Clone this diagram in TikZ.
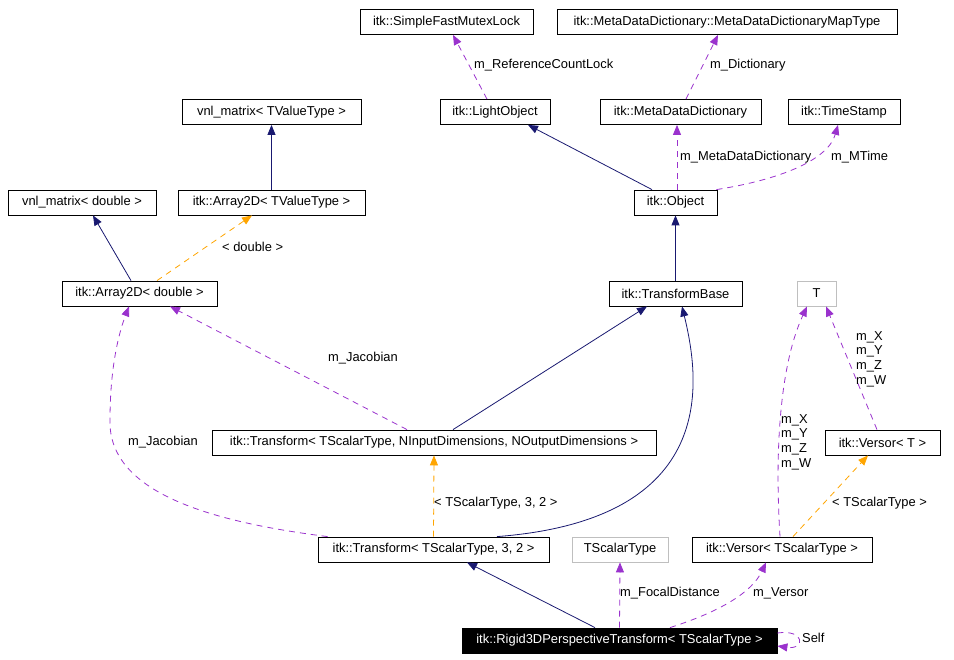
\documentclass[tikz,border=0pt]{standalone}
\usepackage{fontspec}
\setmainfont{Liberation Sans}
\usetikzlibrary{arrows.meta, calc}
\definecolor{inhnavy}{HTML}{191970}
\definecolor{tplorange}{HTML}{FFA500}
\definecolor{memorchid}{HTML}{9A32CD}
\definecolor{extgray}{HTML}{BFBFBF}

\begin{document}
\begin{tikzpicture}[x=1pt, y=-1pt,
  every node/.style={font=\fontsize{12.9}{14.6}\selectfont, inner sep=0pt},
  cls/.style={draw=black, fill=white, line width=0.8pt, minimum height=25pt},
  extcls/.style={cls, draw=extgray},
  thiscls/.style={cls, fill=black, text=white},
  inh/.style={inhnavy, line width=0.8pt, -{Triangle[length=10pt,width=8pt]}},
  tpl/.style={tplorange, line width=0.8pt, dash pattern=on 6pt off 5pt,
              -{Triangle[length=10pt,width=8pt]}},
  mem/.style={memorchid, line width=0.8pt, dash pattern=on 6pt off 5pt,
              -{Triangle[length=10pt,width=8pt]}},
  lbl/.style={anchor=west, align=left}]
  % fixed frame, 1 unit = 1 pixel of the reference, y grows downwards
  \useasboundingbox (0,0) rectangle (954,660);

  % class boxes: name / centre x / centre y / width / text
  \foreach \nm/\cx/\cy/\w/\txt in {
    lock/446.5/22/173/{itk::SimpleFastMutexLock},
    maptype/727/22/340/{itk::MetaDataDictionary::MetaDataDictionaryMapType},
    vnlT/271.5/112/179/{vnl\_matrix< TValueType >},
    light/495/112/110/{itk::LightObject},
    mdd/680.5/112/161/{itk::MetaDataDictionary},
    stamp/844/112/112/{itk::TimeStamp},
    vnld/82/202.5/148/{vnl\_matrix< double >},
    arrT/271.5/202.5/187/{itk::Array2D< TValueType >},
    obj/675.5/202.5/83/{itk::Object},
    arrd/139.5/293.5/155/{itk::Array2D< double >},
    tbase/675.5/293.5/133/{itk::TransformBase},
    trN/434/442.5/444/{itk::Transform< TScalarType, NInputDimensions, NOutputDimensions >},
    versT/882.5/442.5/115/{itk::Versor< T >},
    tr32/433.5/549.5/231/{itk::Transform< TScalarType, 3, 2 >},
    versS/782/549.5/180/{itk::Versor< TScalarType >}
  }{
    \node[cls, minimum width=\w pt] (\nm) at (\cx,\cy) {\txt};
  }
  \node[extcls, minimum width=39pt] (T) at (816.5,293.5) {T};
  \node[extcls, minimum width=96pt] (tst) at (620,549.5) {TScalarType};
  \node[thiscls, minimum width=315pt] (rigid) at (619.5,640.5)
    {itk::Rigid3DPerspectiveTransform< TScalarType >};

  % inheritance
  \draw[inh] ($(arrd.north)+(-8.5,0)$) -- ($(vnld.south)+(11,0)$);
  \draw[inh] (arrT.north) -- (vnlT.south);
  \draw[inh] ($(obj.north)+(-23.5,0)$) -- ($(light.south)+(33,0)$);
  \draw[inh] (tbase.north) -- (obj.south);
  \draw[inh] ($(trN.north)+(19,0)$) -- ($(tbase.south)+(-28.5,0)$);
  \draw[inh] ($(tr32.north)+(63.5,0)$)
    .. controls +(223,-17) and +(18,74) .. ($(tbase.south)+(6.5,0)$);
  \draw[inh] ($(rigid.north)+(-24.5,0)$) -- ($(tr32.south)+(33.5,0)$);

  % template instances
  \draw[tpl] ($(arrd.north)+(17.5,0)$) -- ($(arrT.south)+(-19.5,0)$);
  \draw[tpl] (tr32.north) -- (trN.south);
  \draw[tpl] ($(versS.north)+(11,0)$) -- ($(versT.south)+(-14.5,0)$);

  % members
  \draw[mem] ($(light.north)+(-8,0)$) -- ($(lock.south)+(6.5,0)$);
  \draw[mem] ($(mdd.north)+(5.5,0)$) -- ($(maptype.south)+(-9,0)$);
  \draw[mem] ($(obj.north)+(1.5,0)$) -- ($(mdd.south)+(-3.5,0)$);
  \draw[mem] ($(obj.north east)+(-1,0)$)
    .. controls +(64,-10) and +(-10,35) .. ($(stamp.south)+(-6,0)$);
  \draw[mem] ($(trN.north)+(-27,0)$) -- ($(arrd.south)+(30.5,0)$);
  \draw[mem] ($(tr32.north west)+(10,0)$)
    .. controls (212,522) and (108,493) .. (110,420)
    .. controls (110,370) and (118,335) .. ($(arrd.south)+(-10.5,0)$);
  \draw[mem] ($(versT.north)+(-5.5,0)$) -- ($(T.south)+(9.5,0)$);
  \draw[mem] ($(versS.north)+(-2,0)$)
    .. controls +(-6,-97) and +(-25,54) .. ($(T.south)+(-9.5,0)$);
  \draw[mem] (rigid.north) -- (tst.south);
  \draw[mem] ($(rigid.north)+(50.5,0)$)
    .. controls +(50,-16) and +(-14,30) .. ($(versS.south)+(-16,0)$);
  \draw[mem] ($(rigid.east)+(0,-7.5)$)
    .. controls +(28,-4) and +(28,4) .. ($(rigid.east)+(0,5.5)$);

  % edge labels
  \node[lbl] (lDouble) at (222,247) {< double >};
  \node[lbl] (lLock) at (474,65) {m\_ReferenceCountLock};
  \node[lbl] (lDict) at (710,65) {m\_Dictionary};
  \node[lbl] (lMdd) at (680,157) {m\_MetaDataDictionary};
  \node[lbl] (lMTime) at (831,157) {m\_MTime};
  \node[lbl] (lJacA) at (328,358) {m\_Jacobian};
  \node[lbl] (lJacB) at (128,442) {m\_Jacobian};
  \node[lbl] (lT32) at (434,503) {< TScalarType, 3, 2 >};
  \node[lbl] (lXyzA) at (856,359) {m\_X\\m\_Y\\m\_Z\\m\_W};
  \node[lbl] (lXyzB) at (781,442) {m\_X\\m\_Y\\m\_Z\\m\_W};
  \node[lbl] (lTS) at (832,503) {< TScalarType >};
  \node[lbl] (lFocal) at (620,593) {m\_FocalDistance};
  \node[lbl] (lVersor) at (753,593) {m\_Versor};
  \node[lbl] (lSelf) at (802,638) {Self};
\end{tikzpicture}
\end{document}
